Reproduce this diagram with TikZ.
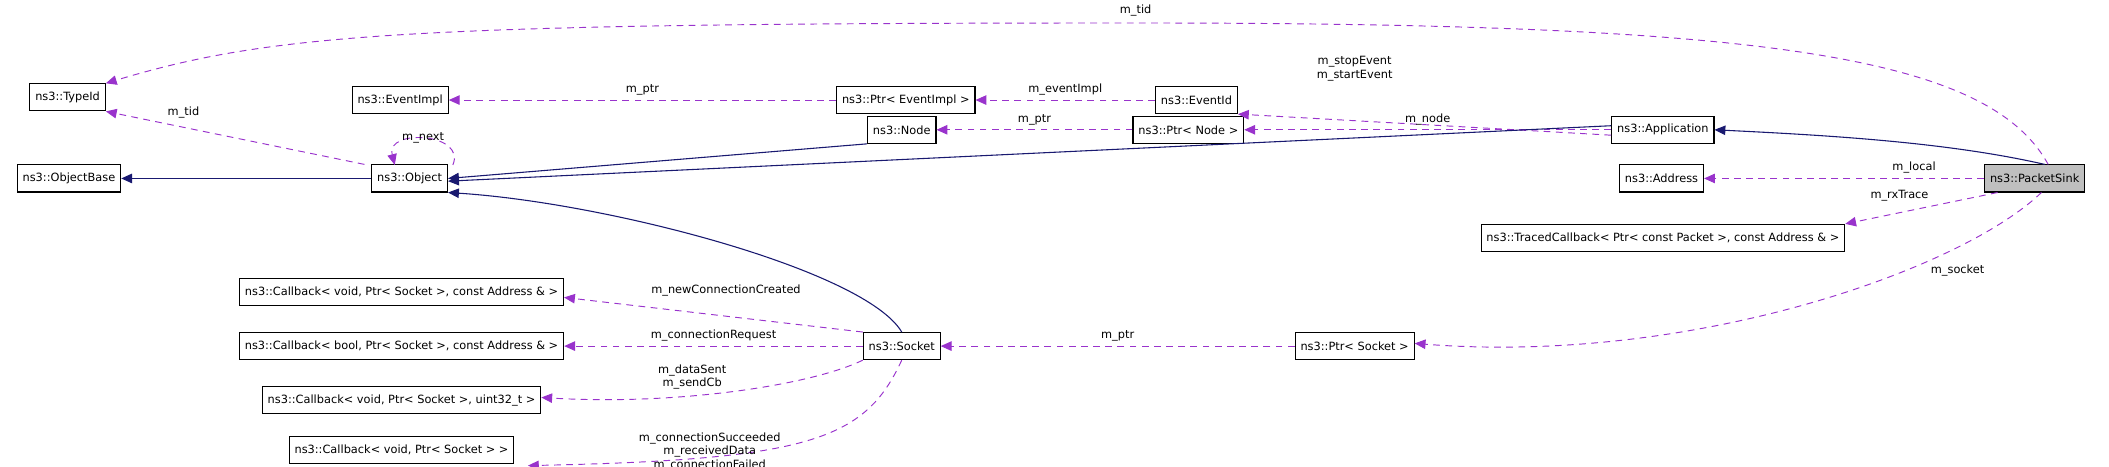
\documentclass[tikz,border=0pt]{standalone}
\usepackage{fontspec}
\setmainfont{DejaVu Sans}
\usetikzlibrary{arrows.meta}
\begin{document}
\begin{tikzpicture}[x=1pt,y=-1pt,
 box/.style={draw,line width=0.8pt,minimum height=20pt,inner xsep=4pt,font=\fontsize{8.4}{9}\selectfont},
 lab/.style={font=\fontsize{8.4}{10}\selectfont,align=center},
 uses/.style={dash pattern=on 5pt off 4pt,draw={rgb,255:red,153;green,51;blue,204},line width=0.7pt,-{Triangle[length=8pt,width=7pt,fill={rgb,255:red,153;green,51;blue,204}]}},
 inh/.style={draw={rgb,255:red,25;green,25;blue,112},line width=0.8pt,-{Triangle[length=8pt,width=7pt]}}]
\useasboundingbox (0,0) rectangle (1560,345.4);
\node[box] (tid) at (50,72) {ns3::TypeId};
\node[box] (ei) at (296,74) {ns3::EventImpl};
\node[box] (pei) at (670,74) {ns3::Ptr< EventImpl >};
\node[box] (eid) at (885,74) {ns3::EventId};
\node[box] (ob) at (51,132) {ns3::ObjectBase};
\node[box] (obj) at (303,132) {ns3::Object};
\node[box] (node) at (667,96) {ns3::Node};
\node[box] (pnode) at (879,96) {ns3::Ptr< Node >};
\node[box] (app) at (1230,96) {ns3::Application};
\node[box] (addr) at (1229,132) {ns3::Address};
\node[box,fill={rgb,255:red,191;green,191;blue,191}] (ps) at (1505,132) {ns3::PacketSink};
\node[box] (tc) at (1230,176) {ns3::TracedCallback< Ptr< const Packet >, const Address \& >};
\node[box] (c1) at (297,216) {ns3::Callback< void, Ptr< Socket >, const Address \& >};
\node[box] (c2) at (297,256) {ns3::Callback< bool, Ptr< Socket >, const Address \& >};
\node[box] (c3) at (297,296) {ns3::Callback< void, Ptr< Socket >, uint32\_t >};
\node[box] (c4) at (297,333) {ns3::Callback< void, Ptr< Socket > >};
\node[box] (sock) at (667,256) {ns3::Socket};
\node[box] (psock) at (1002,256) {ns3::Ptr< Socket >};

\draw[uses] ([xshift=10pt]ps.north) .. controls (1470,40) and (1300,17) .. (840,17) .. controls (300,17) and (200,25) .. (tid.north east);
\node[lab] at (840,8) {m\_tid};
\draw[uses] ([xshift=-5pt]obj.north west) -- (tid.south east) node[lab,pos=0.78,above right] {m\_tid};
\coordinate (la) at (335,122);
\coordinate (lb) at (292,122);
\draw[uses] (la) .. controls (345,98) and (285,95) .. (lb);
\node[lab] at (313,102) {m\_next};
\draw[uses] (pei) -- (ei) node[lab,midway,above] {m\_ptr};
\draw[uses] (eid) -- (pei) node[lab,midway,above] {m\_eventImpl};
\draw[uses] ([yshift=-4pt]app.west) -- (eid.south east);
\node[lab] at (1002,51) {m\_stopEvent\\m\_startEvent};
\draw[uses] (pnode) -- (node) node[lab,midway,above] {m\_ptr};
\draw[uses] (app) -- (pnode) node[lab,midway,above] {m\_node};
\draw[inh] (obj) -- (ob);
\draw[inh] (node.south west) -- (obj.east);
\draw[inh] ([yshift=3pt]app.west) -- ([yshift=-2pt]obj.east);
\draw[inh] (sock.north) .. controls (640,200) and (450,150) .. (obj.south east);
\draw[inh] ([xshift=-30pt]ps.north east) .. controls (1440,105) and (1350,100) .. (app.east);
\draw[uses] (ps) -- (addr) node[lab,pos=0.25,above] {m\_local};
\draw[uses] ([xshift=10pt]ps.south west) -- (tc.north east);
\node[lab] at (1405,145) {m\_rxTrace};
\draw[uses] ([xshift=5pt]ps.south) .. controls (1450,200) and (1250,270) .. ([yshift=2pt]psock.east);
\node[lab] at (1448,200) {m\_socket};
\draw[uses] (psock) -- (sock) node[lab,midway,above] {m\_ptr};
\draw[uses] (sock.north west) -- ([yshift=-4pt]c1.east);
\node[lab] at (537,215) {m\_newConnectionCreated};
\draw[uses] (sock) -- (c2) node[lab,midway,above] {m\_connectionRequest};
\draw[uses] (sock.south west) .. controls (600,285) and (500,300) .. ([yshift=2pt]c3.east);
\node[lab] at (512,279) {m\_dataSent\\m\_sendCb};
\draw[uses] (sock.south) .. controls (640,325) and (600,340) .. ([xshift=10pt,yshift=-1pt]c4.south east);
\node[lab] at (525,334) {m\_connectionSucceeded\\m\_receivedData\\m\_connectionFailed};
\end{tikzpicture}
\end{document}
